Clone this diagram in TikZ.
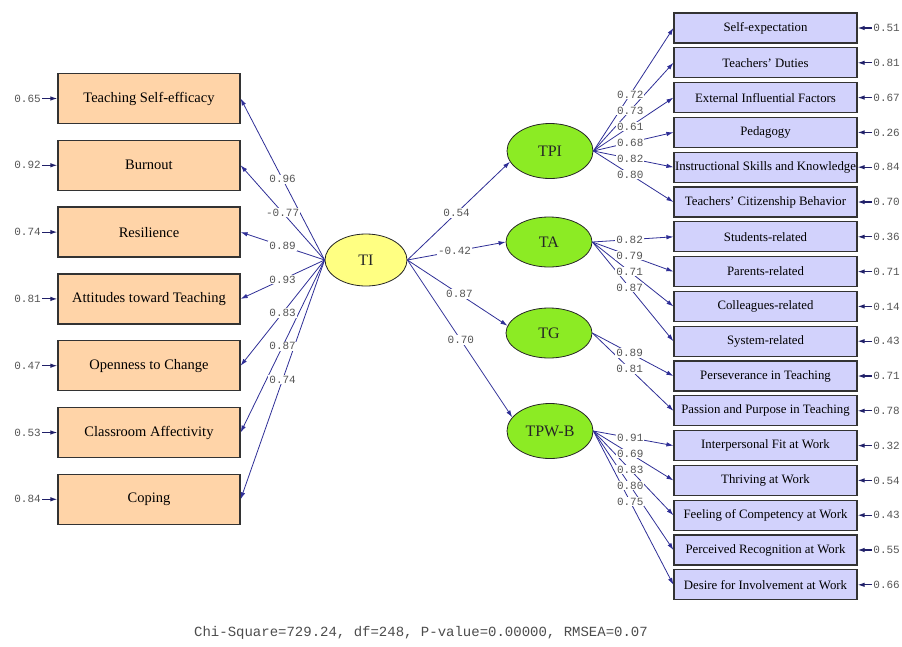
\documentclass[tikz,border=0pt]{standalone}
\usepackage{fontspec}
\setmainfont{Liberation Serif}
\setmonofont{Liberation Mono}
\usepackage{tikz}
\usetikzlibrary{arrows.meta,shapes.geometric}
\definecolor{peach}{HTML}{FFD4A8}
\definecolor{lav}{HTML}{D2D2FC}
\definecolor{latg}{HTML}{8CEB24}
\definecolor{laty}{HTML}{FFFF82}
\definecolor{pth}{HTML}{2E2E96}
\definecolor{numc}{HTML}{555555}
\tikzset{
  >={Latex[length=7pt,width=4.5pt]},
  lbox/.style={draw=black!80,line width=1.3pt,fill=peach,minimum width=182pt,minimum height=50pt,font=\fontsize{14.5}{16}\selectfont},
  rbox/.style={draw=black!80,line width=1.2pt,fill=lav,minimum width=183pt,minimum height=30pt,inner sep=1pt,font=\fontsize{12.8}{14}\selectfont},
  lat/.style={ellipse,draw=black!85,line width=0.8pt,fill=latg,minimum width=86pt,minimum height=52pt,inner sep=1pt,font=\fontsize{16}{18}\selectfont,text=black!85},
  num/.style={font=\ttfamily\fontsize{11}{12}\selectfont,text=numc,inner sep=1pt},
  coef/.style={num,fill=white},
  parr/.style={->,draw=pth,line width=0.8pt},
  earr/.style={->,draw=pth!70!black,line width=1.1pt},
}
\begin{document}
\begin{tikzpicture}[x=1pt,y=-1pt]
\useasboundingbox (0,0) rectangle (902,646);
% latent variables
\node[lat,fill=laty,minimum width=82pt] (TI) at (366,260) {TI};
\node[lat,minimum height=55pt] (TPI) at (550,151) {TPI};
\node[lat,minimum height=50pt] (TA) at (549,242) {TA};
\node[lat,minimum height=50pt] (TG) at (549,333) {TG};
\node[lat,minimum height=55pt] (TPWB) at (550,431) {TPW-B};
% TI indicators
\foreach \txt/\ev [count=\i] in {Teaching Self-efficacy/0.65, Burnout/0.92, Resilience/0.74, Attitudes toward Teaching/0.81, Openness to Change/0.47, Classroom Affectivity/0.53, Coping/0.84}{
  \node[lbox] (L\i) at (149,{98.5+66.8*(\i-1)}) {\txt};
  \node[num,anchor=east] (eL\i) at (42,{98.5+66.8*(\i-1)}) {\ev};
  \draw[earr] (eL\i) -- (L\i);
  \draw[parr] (TI.west) -- (L\i.east);
}
\foreach \ld [count=\i] in {0.96,-0.77,0.89,0.93,0.83,0.87,0.74}
  \path (TI.west) -- node[coef] (cL\i) {\ld} (L\i.east);
% right indicators
\foreach \txt/\ev [count=\i] in {Self-expectation/0.51, Teachers' Duties/0.81, External Influential Factors/0.67, Pedagogy/0.26, Instructional Skills and Knowledge/0.84, Teachers' Citizenship Behavior/0.70, Students-related/0.36, Parents-related/0.71, Colleagues-related/0.14, System-related/0.43, Perseverance in Teaching/0.71, Passion and Purpose in Teaching/0.78, Interpersonal Fit at Work/0.32, Thriving at Work/0.54, Feeling of Competency at Work/0.43, Perceived Recognition at Work/0.55, Desire for Involvement at Work/0.66}{
  \node[rbox] (R\i) at (765.5,{28+34.8*(\i-1)}) {\txt};
  \node[num,anchor=east] (eR\i) at (901,{28+34.8*(\i-1)}) {\ev};
  \draw[earr] (eR\i) -- (R\i);
}
\foreach \lv/\r in {TPI/1,TPI/2,TPI/3,TPI/4,TPI/5,TPI/6,TA/7,TA/8,TA/9,TA/10,TG/11,TG/12,TPWB/13,TPWB/14,TPWB/15,TPWB/16,TPWB/17}
  \draw[parr] (\lv.east) -- (R\r.west);
\foreach \lv/\r/\ld in {TPI/1/0.72,TPI/2/0.73,TPI/3/0.61,TPI/4/0.68,TPI/5/0.82,TPI/6/0.80,TA/7/0.82,TA/8/0.79,TA/9/0.71,TA/10/0.87,TG/11/0.89,TG/12/0.81,TPWB/13/0.91,TPWB/14/0.69,TPWB/15/0.83,TPWB/16/0.80,TPWB/17/0.75}
  \path (\lv.east) -- node[coef,pos=0.46] (cR\r) {\ld} (R\r.west);
% structural paths
\foreach \lv/\an in {TPI/195,TA/west,TG/170,TPWB/160}
  \draw[parr] (TI.east) -- (\lv.\an);
\foreach \lv/\an/\ld/\p in {TPI/195/0.54/0.48,TA/west/-0.42/0.48,TG/170/0.87/0.52,TPWB/160/0.70/0.51}
  \path (TI.east) -- node[coef,pos=\p] (c\lv) {\ld} (\lv.\an);
% fit
\node[font=\ttfamily\fontsize{14}{16}\selectfont,text=black!70] (fit) at (421,633) {Chi-Square=729.24, df=248, P-value=0.00000, RMSEA=0.07};
\end{tikzpicture}
\end{document}
